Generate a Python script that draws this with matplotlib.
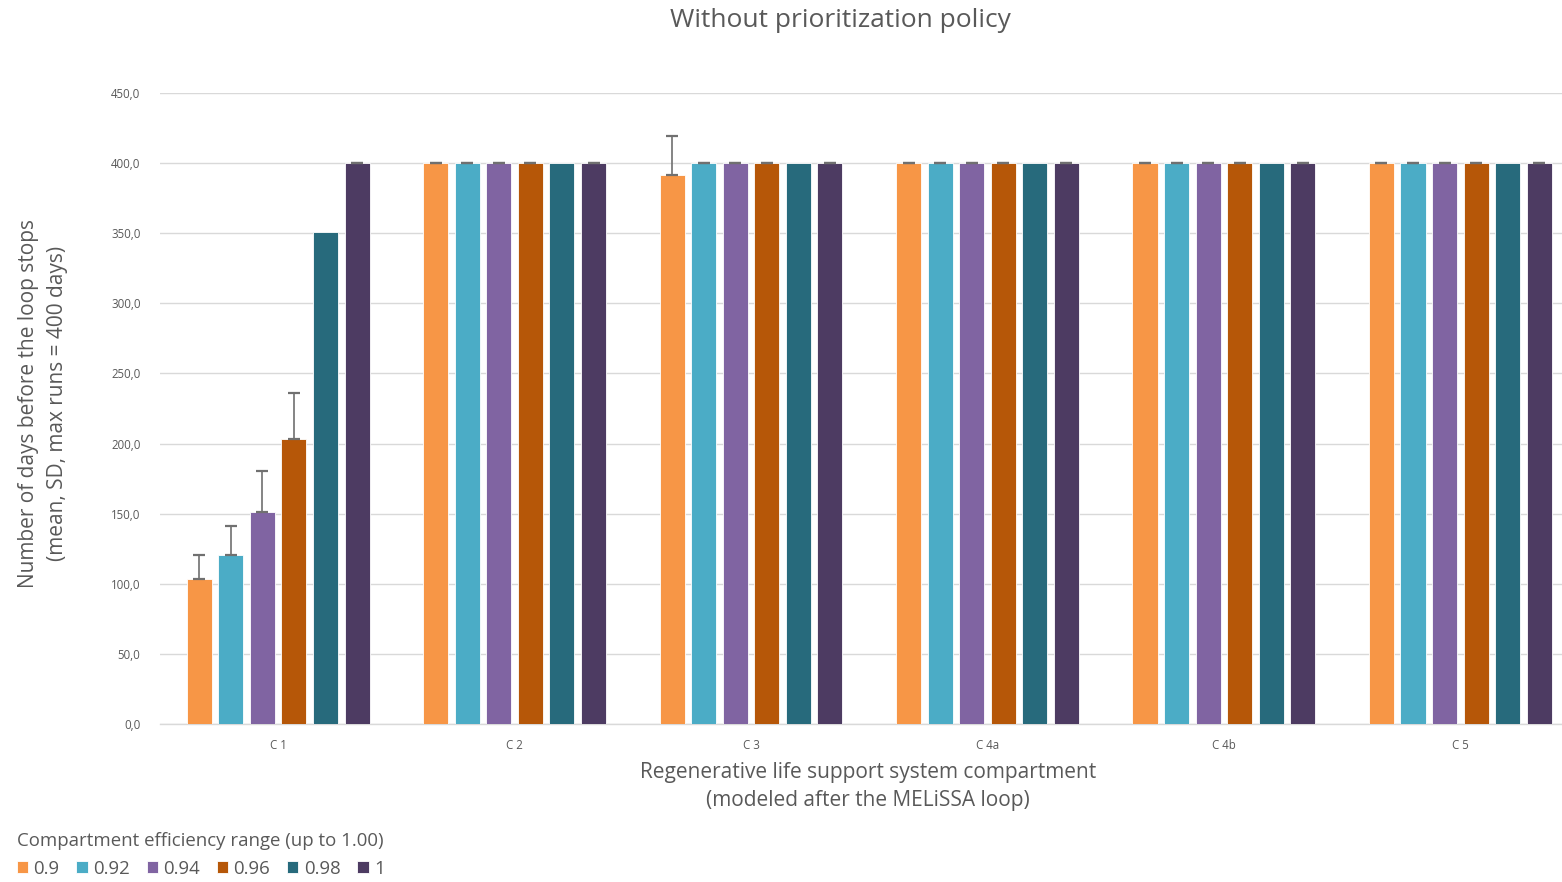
import numpy as np
import matplotlib.pyplot as plt

plt.rcParams['font.family'] = ['Open Sans', 'DejaVu Sans']

compartments = ['C 1', 'C 2', 'C 3', 'C 4a', 'C 4b', 'C 5']
efficiencies = ['0.9', '0.92', '0.94', '0.96', '0.98', '1']

# mean days before the loop stops, one list per efficiency level
mean_days = [
    [103.4, 400, 391.5, 400, 400, 400],
    [120.5, 400, 400, 400, 400, 400],
    [151.2, 400, 400, 400, 400, 400],
    [203.2, 400, 400, 400, 400, 400],
    [350.9, 400, 400, 400, 400, 400],
    [400, 400, 400, 400, 400, 400],
]
sd_days = [
    [17.1, 0, 27.8, 0, 0, 0],
    [20.7, 0, 0, 0, 0, 0],
    [29.2, 0, 0, 0, 0, 0],
    [32.8, 0, 0, 0, 0, 0],
    None,
    [0, 0, 0, 0, 0, 0],
]

colors = ['#F79646', '#4BACC6', '#8064A2', '#B65708', '#276A7C', '#4D3B62']
grey = '#595959'

fig = plt.figure(figsize=(15.62, 8.82), dpi=100)
ax = fig.add_axes([0.1024, 0.179, 0.8976, 0.7156])

x = np.arange(len(compartments))
pitch = 0.1335
width = 0.106
for i, (vals, err) in enumerate(zip(mean_days, sd_days)):
    pos = x + (i - 2.5) * pitch
    ax.bar(pos, vals, width, color=colors[i], edgecolor='white', linewidth=0.6,
           label=efficiencies[i], zorder=3)
    if err is not None:
        # only the upper half of the SD bar is drawn
        ax.errorbar(pos, vals, yerr=[np.zeros(len(err)), err], fmt='none',
                    ecolor='#707070', elinewidth=1.2, capsize=4, capthick=1.6,
                    zorder=4)

ax.set_xlim(-0.5, 5.43)
ax.set_ylim(0, 450)
ax.set_yticks(np.arange(0, 451, 50))
ax.set_yticklabels([f'{v:.1f}'.replace('.', ',') for v in np.arange(0, 451, 50)])
ax.set_xticks(x)
ax.set_xticklabels(compartments)
ax.tick_params(axis='both', length=0, labelsize=8.3, labelcolor=grey)
ax.tick_params(axis='x', pad=11)
ax.tick_params(axis='y', pad=14)
ax.grid(axis='y', color='#d9d9d9', linewidth=1, zorder=0)
for s in ['top', 'right', 'left']:
    ax.spines[s].set_visible(False)
ax.spines['bottom'].set_color('#d9d9d9')
ax.spines['bottom'].set_linewidth(1)

fig.text(0.5557, 0.108,
         'Regenerative life support system compartment\n(modeled after the MELiSSA loop)',
         ha='center', va='center', fontsize=15, color=grey, linespacing=1.45)
fig.text(0.0275, 0.543,
         'Number of days before the loop stops\n(mean, SD, max runs = 400 days)',
         ha='center', va='center', rotation=90, fontsize=15, color=grey,
         linespacing=1.45)

fig.text(0.538, 0.977, 'Without prioritization policy', ha='center', va='center',
         fontsize=19, color=grey)

handles, labels = ax.get_legend_handles_labels()
leg = fig.legend(handles, labels, loc='lower left', bbox_to_anchor=(0.0, -0.014),
                 ncol=6, frameon=False, fontsize=13.4, labelcolor=grey,
                 title='Compartment efficiency range (up to 1.00)',
                 title_fontsize=13.4, alignment='left', handlelength=0.6,
                 handleheight=0.6, handletextpad=0.3, columnspacing=0.9)
leg.get_title().set_color(grey)

fig.savefig('out.png', dpi=100)
